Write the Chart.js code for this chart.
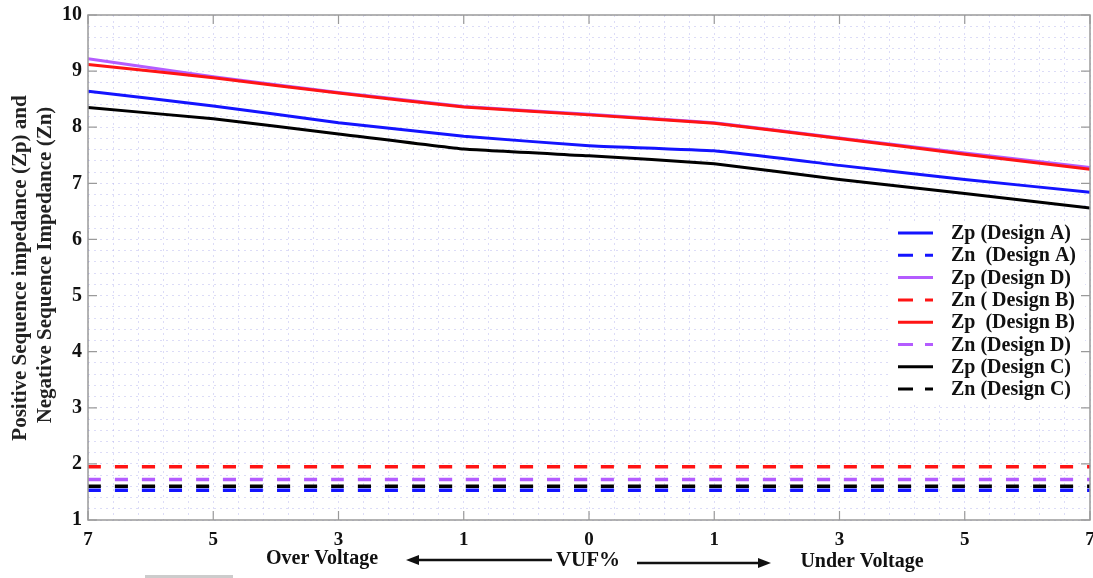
<!DOCTYPE html>
<html>
<head>
<meta charset="utf-8">
<script src="https://cdn.jsdelivr.net/npm/chart.js@4.4.1/dist/chart.umd.min.js"></script>
<style>
  html, body { margin: 0; padding: 0; background: #ffffff; }
  #wrap { width: 1093px; height: 578px; }
</style>
</head>
<body>
<div id="wrap"><canvas id="c" width="1093" height="578"></canvas></div>
<script>
// ---- data ----
const xLabels = ['7', '5', '3', '1', '0', '1', '3', '5', '7'];
const yTickLabels = ['1', '2', '3', '4', '5', '6', '7', '8', '9', '10'];

const zpA = [8.64, 8.38, 8.08, 7.84, 7.67, 7.58, 7.32, 7.07, 6.84];
const znA = [1.53, 1.53, 1.53, 1.53, 1.53, 1.53, 1.53, 1.53, 1.53];
const zpD = [9.22, 8.90, 8.62, 8.37, 8.23, 8.08, 7.81, 7.54, 7.28];
const znB = [1.95, 1.95, 1.95, 1.95, 1.95, 1.95, 1.95, 1.95, 1.95];
const zpB = [9.12, 8.88, 8.61, 8.36, 8.22, 8.07, 7.80, 7.52, 7.25];
const znD = [1.72, 1.72, 1.72, 1.72, 1.72, 1.72, 1.72, 1.72, 1.72];
const zpC = [8.35, 8.15, 7.88, 7.61, 7.49, 7.35, 7.07, 6.82, 6.56];
const znC = [1.60, 1.60, 1.60, 1.60, 1.60, 1.60, 1.60, 1.60, 1.60];

const seriesNames = ['Zp (Design A)', 'Zn  (Design A)', 'Zp (Design D)', 'Zn ( Design B)',
                     'Zp  (Design B)', 'Zn (Design D)', 'Zp (Design C)', 'Zn (Design C)'];

const yTitle1 = 'Positive Sequence impedance (Zp) and';
const yTitle2 = 'Negative Sequence Impedance (Zn)';
const xNoteLeft = 'Over Voltage';
const xNoteMid = 'VUF%';
const xNoteRight = 'Under Voltage';

// ---- styles ----
const BLUE = '#1414ff', PURPLE = '#b45cff', RED = '#ff1414', BLACK = '#000000';
const DASH = [13, 14];
const SERIF = '"Liberation Serif", "Times New Roman", serif';
const GRID = 'rgba(185,185,240,0.5)';

function pts(arr) { return arr.map((v, i) => ({ x: i, y: v })); }

function ds(label, arr, color, dashed, order) {
  return {
    label: label,
    data: pts(arr),
    borderColor: color,
    backgroundColor: color,
    borderWidth: dashed ? 3.5 : 3,
    borderDash: dashed ? DASH : [],
    pointRadius: 0,
    pointHoverRadius: 0,
    tension: 0.1,
    fill: false,
    order: order
  };
}

const datasets = [
  ds(seriesNames[0], zpA, BLUE, false, 3),
  ds(seriesNames[1], znA, BLUE, true, 6),
  ds(seriesNames[2], zpD, PURPLE, false, 4),
  ds(seriesNames[3], znB, RED, true, 5),
  ds(seriesNames[4], zpB, RED, false, 1),
  ds(seriesNames[5], znD, PURPLE, true, 5),
  ds(seriesNames[6], zpC, BLACK, false, 2),
  ds(seriesNames[7], znC, BLACK, true, 5)
];

const isInt = v => Math.abs(v - Math.round(v)) < 1e-6;

const decor = {
  id: 'decor',
  afterDatasetsDraw(chart) {
    const ctx = chart.ctx;
    // legend box
    const lx0 = 889, ly0 = 221, lw = 196, lh = 181;
    ctx.save();
    ctx.fillStyle = '#ffffff';
    ctx.fillRect(lx0, ly0, lw, lh);
    ctx.font = 'bold 20px ' + SERIF;
    ctx.textBaseline = 'middle';
    ctx.textAlign = 'left';
    chart.data.datasets.forEach((d, i) => {
      const y = 233 + i * 22.3;
      ctx.strokeStyle = d.borderColor;
      ctx.lineWidth = 3;
      ctx.setLineDash(d.borderDash && d.borderDash.length ? [15, 12] : []);
      ctx.beginPath();
      ctx.moveTo(898, y);
      ctx.lineTo(933, y);
      ctx.stroke();
      ctx.setLineDash([]);
      ctx.fillStyle = '#111111';
      ctx.fillText(d.label, 951, y + 1);
    });
    ctx.restore();
  },
  afterDraw(chart) {
    const ctx = chart.ctx;
    const a = chart.chartArea;
    const xs = chart.scales.x, ys = chart.scales.y;
    ctx.save();
    // frame
    ctx.strokeStyle = '#9a9a9a';
    ctx.lineWidth = 1.5;
    ctx.setLineDash([]);
    ctx.strokeRect(a.left, a.top, a.right - a.left, a.bottom - a.top);
    // inward major ticks
    ctx.lineWidth = 1.2;
    ctx.beginPath();
    for (let i = 0; i < xLabels.length; i++) {
      const px = xs.getPixelForValue(i);
      ctx.moveTo(px, a.bottom); ctx.lineTo(px, a.bottom - 9);
      ctx.moveTo(px, a.top); ctx.lineTo(px, a.top + 9);
    }
    for (let v = 1; v <= 10; v++) {
      const py = ys.getPixelForValue(v);
      ctx.moveTo(a.left, py); ctx.lineTo(a.left + 9, py);
      ctx.moveTo(a.right, py); ctx.lineTo(a.right - 9, py);
    }
    ctx.stroke();

    // y axis title (two lines, rotated)
    ctx.fillStyle = '#222222';
    ctx.font = 'bold 21px ' + SERIF;
    ctx.textAlign = 'center';
    ctx.textBaseline = 'middle';
    ctx.save();
    ctx.translate(21, 268);
    ctx.rotate(-Math.PI / 2);
    ctx.fillText(yTitle1, 0, 0);
    ctx.restore();
    ctx.save();
    ctx.translate(46, 265);
    ctx.rotate(-Math.PI / 2);
    ctx.fillText(yTitle2, 0, 0);
    ctx.restore();

    // bottom annotations
    ctx.fillStyle = '#111111';
    ctx.font = 'bold 20px ' + SERIF;
    ctx.fillText(xNoteLeft, 322, 559);
    ctx.fillText(xNoteRight, 862, 562);
    ctx.font = 'bold 21px ' + SERIF;
    ctx.fillText(xNoteMid, 588, 561);

    // arrows
    ctx.strokeStyle = '#111111';
    ctx.fillStyle = '#111111';
    ctx.lineWidth = 2.5;
    ctx.beginPath();
    ctx.moveTo(552, 560); ctx.lineTo(414, 560);
    ctx.stroke();
    ctx.beginPath();
    ctx.moveTo(406, 560); ctx.lineTo(419, 555); ctx.lineTo(419, 565); ctx.closePath();
    ctx.fill();
    ctx.beginPath();
    ctx.moveTo(637, 563); ctx.lineTo(763, 563);
    ctx.stroke();
    ctx.beginPath();
    ctx.moveTo(771, 563); ctx.lineTo(758, 558); ctx.lineTo(758, 568); ctx.closePath();
    ctx.fill();

    // small grey bar at bottom-left edge
    ctx.fillStyle = '#cccccc';
    ctx.fillRect(145, 575, 88, 3);
    ctx.restore();
  }
};

new Chart(document.getElementById('c'), {
  type: 'line',
  data: { datasets: datasets },
  options: {
    responsive: false,
    animation: false,
    devicePixelRatio: 1,
    layout: { padding: { top: 15, right: 3, left: 0, bottom: 0 } },
    plugins: {
      legend: { display: false },
      tooltip: { enabled: false },
      title: { display: false }
    },
    scales: {
      x: {
        type: 'linear',
        min: 0,
        max: xLabels.length - 1,
        grid: { color: GRID, lineWidth: 1, drawTicks: false },
        border: { display: false, dash: [2, 4] },
        ticks: {
          stepSize: 0.2,
          maxTicksLimit: 200,
          autoSkip: false,
          maxRotation: 0,
          padding: 9,
          color: '#111111',
          font: { family: SERIF, size: 19, weight: 'bold' },
          callback: v => isInt(v) ? xLabels[Math.round(v)] : ''
        },
        afterFit: s => { s.height = 58; s.paddingLeft = 0; s.paddingRight = 0; }
      },
      y: {
        type: 'linear',
        min: 1,
        max: 10,
        grid: { color: GRID, lineWidth: 1, drawTicks: false },
        border: { display: false, dash: [2, 4] },
        ticks: {
          stepSize: 0.2,
          maxTicksLimit: 200,
          autoSkip: false,
          padding: 6,
          color: '#111111',
          font: { family: SERIF, size: 20, weight: 'bold' },
          callback: v => isInt(v) ? yTickLabels[Math.round(v) - 1] : ''
        },
        afterFit: s => { s.width = 88; s.paddingTop = 0; s.paddingBottom = 0; }
      }
    }
  },
  plugins: [decor]
});
</script>
</body>
</html>
